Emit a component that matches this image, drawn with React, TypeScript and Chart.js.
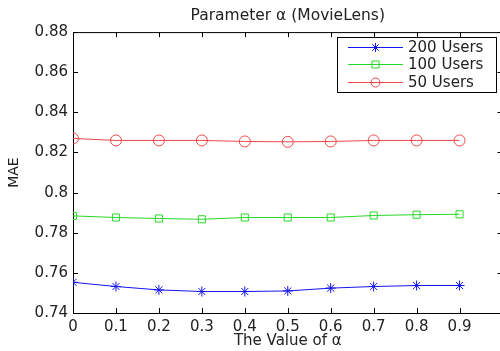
import React, { useEffect, useRef } from "react";
import { Chart, registerables } from "chart.js";

Chart.register(...registerables);

const alphaValues = [0, 0.1, 0.2, 0.3, 0.4, 0.5, 0.6, 0.7, 0.8, 0.9];
const users200 = [0.7553, 0.7532, 0.7515, 0.7507, 0.7507, 0.751, 0.7524, 0.7532, 0.7537, 0.7537];
const users100 = [0.7884, 0.7876, 0.7871, 0.7867, 0.7876, 0.7876, 0.7876, 0.7886, 0.789, 0.7892];
const users50 = [0.827, 0.826, 0.826, 0.826, 0.8255, 0.8253, 0.8255, 0.826, 0.826, 0.826];
const seriesNames = ["200 Users", "100 Users", "50 Users"];
const seriesColors = ["#1515ee", "#28d828", "#ee4848"];
const seriesMarkers = ["star", "rect", "circle"];
const yTicks = [0.74, 0.76, 0.78, 0.8, 0.82, 0.84, 0.86, 0.88];
const titleText = "Parameter \u03b1 (MovieLens)";
const xTitle = "The Value of \u03b1";
const yTitle = "MAE";

const FONT = "'DejaVu Sans', sans-serif";
const TEXT = "#222";

function drawMarker(ctx: CanvasRenderingContext2D, style: string, x: number, y: number, r: number) {
  ctx.beginPath();
  if (style === "star") {
    ctx.moveTo(x - r, y); ctx.lineTo(x + r, y);
    ctx.moveTo(x, y - r); ctx.lineTo(x, y + r);
    const d = r * Math.SQRT1_2;
    ctx.moveTo(x - d, y - d); ctx.lineTo(x + d, y + d);
    ctx.moveTo(x - d, y + d); ctx.lineTo(x + d, y - d);
  } else if (style === "rect") {
    const s = r * Math.SQRT1_2;
    ctx.rect(x - s, y - s, 2 * s, 2 * s);
  } else {
    ctx.arc(x, y, r, 0, Math.PI * 2);
  }
  ctx.stroke();
}

const framePlugin = {
  id: "frame",
  afterDraw(chart: any) {
    const { ctx, chartArea, scales } = chart;
    const { left, right, top, bottom } = chartArea;
    ctx.save();
    ctx.strokeStyle = "#000";
    ctx.lineWidth = 1;
    ctx.beginPath();
    ctx.moveTo(left, top + 0.5); ctx.lineTo(right, top + 0.5);
    ctx.moveTo(right - 0.5, top); ctx.lineTo(right - 0.5, bottom);
    const tl = 5;
    scales.x.ticks.forEach((t: any) => {
      const px = Math.round(scales.x.getPixelForValue(t.value)) + 0.5;
      ctx.moveTo(px, bottom); ctx.lineTo(px, bottom - tl);
      ctx.moveTo(px, top); ctx.lineTo(px, top + tl);
    });
    scales.y.ticks.forEach((t: any) => {
      const py = Math.round(scales.y.getPixelForValue(t.value)) + 0.5;
      ctx.moveTo(left, py); ctx.lineTo(left + tl, py);
      ctx.moveTo(right, py); ctx.lineTo(right - tl, py);
    });
    ctx.stroke();

    // legend
    const bx = 337.5, by = 37.5, bw = 159, bh = 55;
    ctx.fillStyle = "#fff";
    ctx.fillRect(bx, by, bw, bh);
    ctx.strokeStyle = "#000";
    ctx.strokeRect(bx, by, bw, bh);
    ctx.font = `15px ${FONT}`;
    ctx.textBaseline = "middle";
    ctx.textAlign = "left";
    const rows = [47.5, 64.5, 82.5];
    seriesNames.forEach((name, i) => {
      const y = rows[i];
      ctx.strokeStyle = seriesColors[i];
      ctx.lineWidth = 1;
      ctx.beginPath();
      ctx.moveTo(348, y); ctx.lineTo(403, y);
      ctx.stroke();
      drawMarker(ctx, seriesMarkers[i], 375.5, y, i === 1 ? 5 : 4.5);
      ctx.fillStyle = TEXT;
      ctx.fillText(name, 408, y + 1);
    });
    ctx.restore();
  },
};

export default function App() {
  const ref = useRef<HTMLCanvasElement>(null);
  useEffect(() => {
    if (!ref.current) return;
    const data = [users200, users100, users50];
    const chart = new Chart(ref.current, {
      type: "line",
      data: {
        labels: alphaValues,
        datasets: data.map((vals, i) => ({
          label: seriesNames[i],
          data: vals.map((v, j) => ({ x: alphaValues[j], y: v })),
          borderColor: seriesColors[i],
          backgroundColor: "rgba(0,0,0,0)",
          borderWidth: 1,
          pointStyle: seriesMarkers[i] as any,
          pointRadius: i === 2 ? 5.5 : 5,
          pointBorderWidth: 1,
          pointBorderColor: seriesColors[i],
          pointBackgroundColor: "rgba(0,0,0,0)",
          tension: 0,
        })),
      },
      options: {
        animation: false,
        responsive: false,
        maintainAspectRatio: false,
        layout: { padding: { left: 0, right: 2, top: 0, bottom: 0 } },
        plugins: {
          legend: { display: false },
          tooltip: { enabled: false },
          title: {
            display: true,
            text: titleText,
            fullSize: false,
            color: TEXT,
            font: { family: FONT, size: 15.5, weight: "normal", lineHeight: 1.2 },
            padding: { top: 7, bottom: 6.5 },
          },
        },
        scales: {
          x: {
            type: "linear",
            min: 0,
            max: 1,
            afterFit: (s: any) => { s.height = 38; },
            grid: { display: false, drawTicks: false },
            border: { display: true, color: "#000", width: 1 },
            ticks: {
              stepSize: 0.1,
              padding: 5,
              color: TEXT,
              font: { family: FONT, size: 15, lineHeight: 1.2 },
              maxRotation: 0,
              autoSkip: false,
              callback: (v: any) => {
                const n = Math.round(Number(v) * 10) / 10;
                return n >= 1 ? "" : String(n);
              },
            },
            title: {
              display: true,
              text: xTitle,
              color: TEXT,
              font: { family: FONT, size: 15, lineHeight: 1.2 },
              padding: { top: 0, bottom: 1 },
            },
          },
          y: {
            min: 0.74,
            max: 0.88,
            afterFit: (s: any) => { s.width = 73; },
            afterBuildTicks: (s: any) => { s.ticks = yTicks.map((v) => ({ value: v })); },
            grid: { display: false, drawTicks: false },
            border: { display: true, color: "#000", width: 1 },
            ticks: {
              padding: 5,
              color: TEXT,
              font: { family: FONT, size: 15, lineHeight: 1.2 },
              callback: (v: any) => String(Math.round(Number(v) * 100) / 100),
            },
            title: {
              display: true,
              text: yTitle,
              color: TEXT,
              font: { family: FONT, size: 14, lineHeight: 1.2 },
              padding: { top: 6, bottom: 0 },
            },
          },
        },
      },
      plugins: [framePlugin],
    });
    return () => chart.destroy();
  }, []);
  return (
    <div style={{ position: "fixed", left: 0, top: 0, width: 500, height: 351, overflow: "hidden", background: "#fff" }}>
      <canvas ref={ref} width={509} height={351} style={{ width: 509, height: 351, display: "block" }} />
    </div>
  );
}
